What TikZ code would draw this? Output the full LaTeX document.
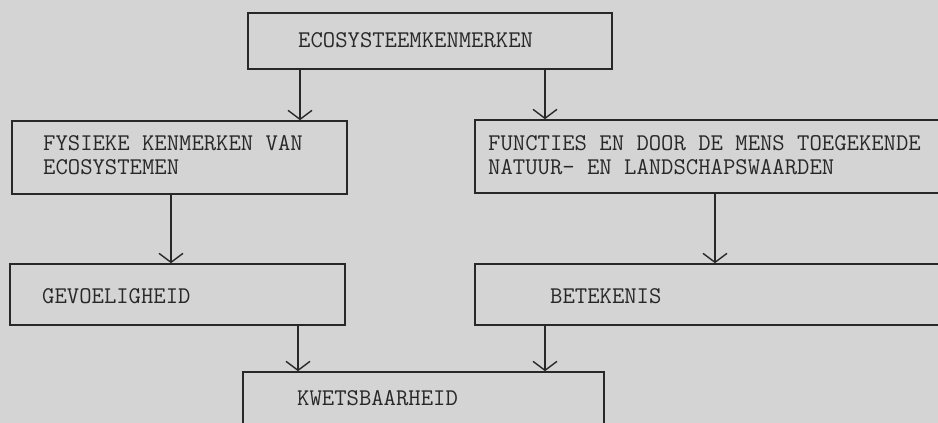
\documentclass[tikz,border=0pt]{standalone}
\usepackage{fontspec}
\usetikzlibrary{arrows.meta}
\definecolor{bg}{RGB}{212,212,212}
\definecolor{ink}{RGB}{40,40,40}
\tikzset{
  box/.style={draw=ink, line width=1.6pt, rectangle, inner sep=0pt, outer sep=0pt, anchor=north west},
  lbl/.style={text=ink, inner sep=0pt, anchor=base west, align=left, font=\ttfamily\fontsize{24}{24}\selectfont},
  arr/.style={draw=ink, line width=1.4pt, -{Straight Barb[width=24pt,length=9pt,line width=1.4pt]}, shorten >=0.8pt}
}
\begin{document}
\begin{tikzpicture}[x=1pt,y=1pt]
\fill[bg] (0,0) rectangle (938,-423);
\useasboundingbox (0,0) rectangle (938,-423);
\clip (0,0) rectangle (938,-423);
% boxes
\node[box, minimum width=364pt, minimum height=56pt] (top) at (248,-13) {};
\node[box, minimum width=335pt, minimum height=73pt] (fys) at (12,-121) {};
\node[box, minimum width=485pt, minimum height=73pt] (fun) at (475,-120) {};
\node[box, minimum width=335pt, minimum height=61pt] (gev) at (10,-264) {};
\node[box, minimum width=485pt, minimum height=61pt] (bet) at (475,-264) {};
\node[box, minimum width=361pt, minimum height=70pt] (kwe) at (243,-372) {};
% texts
\node[lbl] (t1) at (298,-47) {ECOSYSTEEMKENMERKEN};
\node[lbl] (t2) at (43,-174) {FYSIEKE KENMERKEN VAN\\ECOSYSTEMEN};
\node[lbl] (t3) at (488,-174) {FUNCTIES EN DOOR DE MENS TOEGEKENDE\\NATUUR- EN LANDSCHAPSWAARDEN};
\node[lbl] (t4) at (42,-303) {GEVOELIGHEID};
\node[lbl] (t5) at (550,-303) {BETEKENIS};
\node[lbl] (t6) at (297,-405) {KWETSBAARHEID};
% connector columns
\coordinate (c1) at (300,0);
\coordinate (c2) at (545,0);
\coordinate (c3) at (171,0);
\coordinate (c4) at (715,0);
\coordinate (c5) at (298,0);
\coordinate (c6) at (545,0);
\draw[arr] (top.south -| c1) -- (fys.north -| c1);
\draw[arr] (top.south -| c2) -- (fun.north -| c2);
\draw[arr] (fys.south -| c3) -- (gev.north -| c3);
\draw[arr] (fun.south -| c4) -- (bet.north -| c4);
\draw[arr] (gev.south -| c5) -- (kwe.north -| c5);
\draw[arr] (bet.south -| c6) -- (kwe.north -| c6);
\end{tikzpicture}
\end{document}
